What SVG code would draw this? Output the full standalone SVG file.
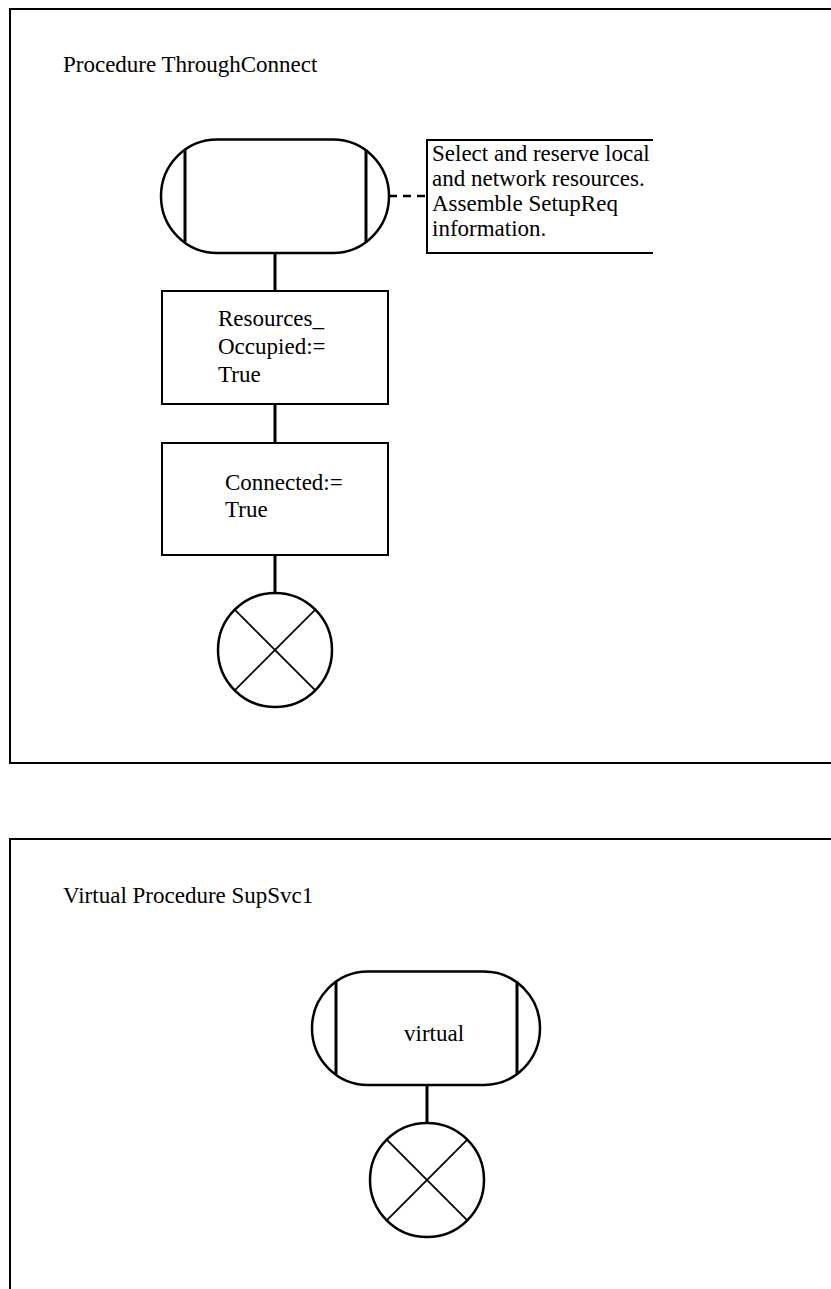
<svg xmlns="http://www.w3.org/2000/svg" width="831" height="1289" viewBox="0 0 831 1289">
<style>
.frame{fill:none;stroke:#000;stroke-width:2}
.term{fill:#fff;stroke:#000;stroke-width:2.5}
.bar{stroke:#000;stroke-width:3}
.box{fill:#fff;stroke:#000;stroke-width:2}
.conn{stroke:#000;stroke-width:3;fill:none}
.dash{stroke:#000;stroke-width:2.5;stroke-dasharray:8 6;fill:none}
.stop{fill:#fff;stroke:#000;stroke-width:2.5}
.x{stroke:#000;stroke-width:1.8}
.comment{fill:none;stroke:#000;stroke-width:2}
text{font-family:"Liberation Serif","Times New Roman",serif;font-size:23px;fill:#000}
</style>
<rect width="831" height="1289" fill="#fff"/>
<g id="frame1">
<path class="frame" d="M840 9 H10 V763 H840"/>
<text x="63" y="72">Procedure ThroughConnect</text>
</g>
<g id="frame2">
<path class="frame" d="M840 839 H10 V1300"/>
<text x="63" y="903">Virtual Procedure SupSvc1</text>
</g>
<g id="connectors">
<line class="conn" x1="275" y1="253" x2="275" y2="291"/>
<line class="conn" x1="275" y1="404" x2="275" y2="443"/>
<line class="conn" x1="275" y1="555" x2="275" y2="593"/>
<line class="dash" x1="389" y1="196" x2="427" y2="196"/>
<line class="conn" x1="427" y1="1085" x2="427" y2="1123"/>
</g>
<g id="start1">
<rect class="term" x="161" y="139.5" width="228" height="113.5" rx="56" ry="56.7"/>
<line class="bar" x1="185" y1="149.5" x2="185" y2="242.5"/>
<line class="bar" x1="366" y1="149.5" x2="366" y2="242.5"/>
</g>
<g id="comment1">
<path class="comment" d="M653 140 H427 V253 H653"/>
<text x="432" y="161">Select and reserve local</text>
<text x="432" y="186">and network resources.</text>
<text x="432" y="211">Assemble SetupReq</text>
<text x="432" y="236">information.</text>
</g>
<g id="task1">
<rect class="box" x="162" y="291" width="226" height="113"/>
<text x="218" y="326">Resources_</text>
<text x="218" y="354">Occupied:=</text>
<text x="218" y="382">True</text>
</g>
<g id="task2">
<rect class="box" x="162" y="443" width="226" height="112"/>
<text x="225" y="490">Connected:=</text>
<text x="225" y="517">True</text>
</g>
<g id="stop1">
<circle class="stop" cx="275" cy="650" r="57"/>
<line class="x" x1="234.7" y1="609.7" x2="315.3" y2="690.3"/>
<line class="x" x1="315.3" y1="609.7" x2="234.7" y2="690.3"/>
</g>
<g id="start2">
<rect class="term" x="312" y="971.5" width="228" height="113.5" rx="56" ry="56.7"/>
<line class="bar" x1="336" y1="981.5" x2="336" y2="1074.5"/>
<line class="bar" x1="517" y1="981.5" x2="517" y2="1074.5"/>
<text x="404" y="1041">virtual</text>
</g>
<g id="stop2">
<circle class="stop" cx="427" cy="1180" r="57"/>
<line class="x" x1="386.7" y1="1139.7" x2="467.3" y2="1220.3"/>
<line class="x" x1="467.3" y1="1139.7" x2="386.7" y2="1220.3"/>
</g>
</svg>
